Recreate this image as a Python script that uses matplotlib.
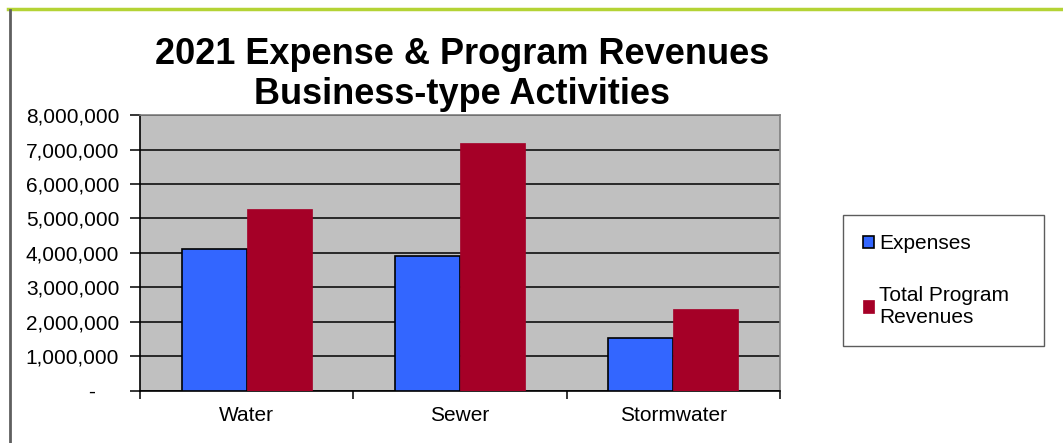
import matplotlib.pyplot as plt
import numpy as np
from matplotlib.lines import Line2D
from matplotlib.ticker import FuncFormatter, FixedLocator

plt.rcParams['font.family'] = ['Liberation Sans', 'DejaVu Sans']

# Business-type activities, 2021
categories = ["Water", "Sewer", "Stormwater"]
expenses = [4120000, 3910000, 1540000]
program_revenues = [5270000, 7200000, 2380000]
series_labels = ["Expenses", "Total Program\nRevenues"]
y_ticks = [0, 1000000, 2000000, 3000000, 4000000, 5000000, 6000000, 7000000, 8000000]

fig = plt.figure(figsize=(10.63, 4.43), dpi=100)
ax = fig.add_axes([0.1317, 0.1174, 0.602, 0.623])

x = np.arange(len(categories))
w = 0.305
ax.set_facecolor("#c0c0c0")
ax.bar(x - w / 2, expenses, w, color="#3366ff", edgecolor="black", linewidth=1.2,
       label=series_labels[0], zorder=3)
ax.bar(x + w / 2, program_revenues, w, color="#a50027", edgecolor="#a50027", linewidth=0.5,
       label=series_labels[1], zorder=3)

ax.set_xlim(-0.5, 2.5)
ax.set_ylim(0, 8000000)
ax.set_yticks(y_ticks)
ax.yaxis.set_major_formatter(FuncFormatter(lambda v, p: "-    " if v == 0 else f"{v:,.0f}"))
ax.grid(axis="y", color="black", linewidth=1.1, zorder=1)

ax.set_xticks(x)
ax.set_xticklabels(categories, fontsize=15)
ax.xaxis.set_minor_locator(FixedLocator([-0.5, 0.5, 1.5, 2.5]))
ax.tick_params(axis="x", which="major", length=0, pad=11)
ax.tick_params(axis="x", which="minor", length=6, width=1.1, color="black")
ax.tick_params(axis="y", length=7, width=1.1, labelsize=15, pad=8)

for side in ["top", "right"]:
    ax.spines[side].set_color("#808080")
    ax.spines[side].set_linewidth(1.2)
for side in ["left", "bottom"]:
    ax.spines[side].set_color("black")
    ax.spines[side].set_linewidth(1.2)

fig.text(0.4346, 0.832, "2021 Expense & Program Revenues\nBusiness-type Activities",
         ha="center", va="center", fontsize=26, fontweight="bold", linespacing=1.2)

leg = fig.legend(loc="center left", bbox_to_anchor=(0.783, 0.2144, 0.209, 0.305),
                 mode="expand", fontsize=15, handlelength=0.55, handleheight=0.55,
                 handletextpad=0.25, labelspacing=1.55, borderpad=0.95,
                 fancybox=False, frameon=True)
leg.get_frame().set_edgecolor("#333333")
leg.get_frame().set_linewidth(1.0)

# page frame lines
fig.add_artist(Line2D([0.0075, 1.0], [0.98, 0.98], color="#b4d335", linewidth=2.5,
                      transform=fig.transFigure))
fig.add_artist(Line2D([0.009, 0.009], [0.0, 0.977], color="#5f5f5f", linewidth=2.0,
                      transform=fig.transFigure))

fig.savefig("out.png", dpi=100)
